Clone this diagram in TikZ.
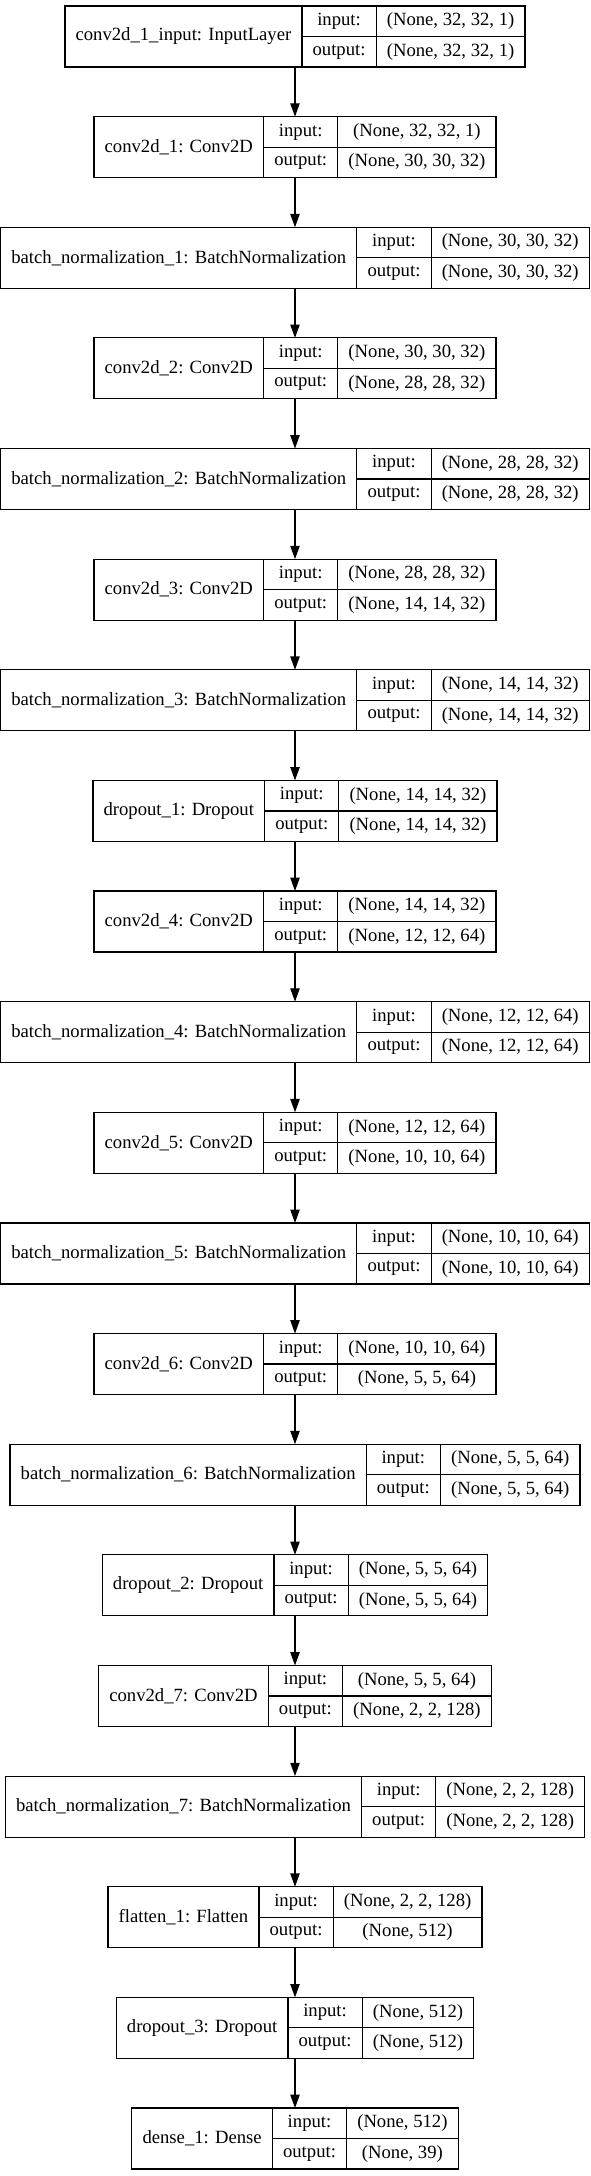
\documentclass[tikz,border=0pt]{standalone}
\usepackage{fontspec}
\setmainfont{Liberation Serif}
\usetikzlibrary{arrows.meta}

\newcommand\layerfont{\fontsize{14}{16.8}\selectfont}
\newlength\lblw
\newlength\keyw
\newlength\valw
\newlength\tmpw
% one record: name, row, label, input shape, output shape
\newcommand\layer[5]{%
  \pgfinterruptpicture%
    \settowidth\tmpw{\layerfont #3}\global\lblw=\tmpw%
    \settowidth\tmpw{\layerfont output:}\global\keyw=\tmpw%
    \settowidth\tmpw{\layerfont #4}\global\valw=\tmpw%
    \settowidth\tmpw{\layerfont #5}\ifdim\tmpw>\valw\global\valw=\tmpw\fi%
  \endpgfinterruptpicture%
  \global\advance\lblw by 16pt%
  \global\advance\keyw by 16pt%
  \global\advance\valw by 16pt%
  \node (#1) at (295, 36.5+110.63*#2) [record,minimum width=\lblw+\keyw+\valw] {};
  \node (#1-name) at (#1.west) [field,anchor=west,minimum width=\lblw,minimum height=45.75pt] {#3};
  \node (#1-ik) at (#1-name.north east) [field,anchor=north west,minimum width=\keyw] {input:};
  \node (#1-ok) at (#1-ik.south west) [field,anchor=north west,minimum width=\keyw] {output:};
  \node (#1-iv) at (#1-ik.north east) [field,anchor=north west,minimum width=\valw] {#4};
  \node (#1-ov) at (#1-ok.north east) [field,anchor=north west,minimum width=\valw] {#5};
}

\begin{document}
\begin{tikzpicture}
    [x=0.75pt,y=-0.75pt,inner sep=0pt,outer sep=0pt,
     record/.style={minimum height=45.75pt},
     field/.style={draw,line width=0.9pt,font=\layerfont,minimum height=22.875pt},
     flow/.style={line width=0.9pt,-{Triangle[length=10pt,width=7pt]}}]
    \useasboundingbox (0,0) rectangle (591,2176);
    \layer{input}{0}{conv2d\_1\_input: InputLayer}{(None, 32, 32, 1)}{(None, 32, 32, 1)}
    \layer{conv1}{1}{conv2d\_1: Conv2D}{(None, 32, 32, 1)}{(None, 30, 30, 32)}
    \layer{bn1}{2}{batch\_normalization\_1: BatchNormalization}{(None, 30, 30, 32)}{(None, 30, 30, 32)}
    \layer{conv2}{3}{conv2d\_2: Conv2D}{(None, 30, 30, 32)}{(None, 28, 28, 32)}
    \layer{bn2}{4}{batch\_normalization\_2: BatchNormalization}{(None, 28, 28, 32)}{(None, 28, 28, 32)}
    \layer{conv3}{5}{conv2d\_3: Conv2D}{(None, 28, 28, 32)}{(None, 14, 14, 32)}
    \layer{bn3}{6}{batch\_normalization\_3: BatchNormalization}{(None, 14, 14, 32)}{(None, 14, 14, 32)}
    \layer{drop1}{7}{dropout\_1: Dropout}{(None, 14, 14, 32)}{(None, 14, 14, 32)}
    \layer{conv4}{8}{conv2d\_4: Conv2D}{(None, 14, 14, 32)}{(None, 12, 12, 64)}
    \layer{bn4}{9}{batch\_normalization\_4: BatchNormalization}{(None, 12, 12, 64)}{(None, 12, 12, 64)}
    \layer{conv5}{10}{conv2d\_5: Conv2D}{(None, 12, 12, 64)}{(None, 10, 10, 64)}
    \layer{bn5}{11}{batch\_normalization\_5: BatchNormalization}{(None, 10, 10, 64)}{(None, 10, 10, 64)}
    \layer{conv6}{12}{conv2d\_6: Conv2D}{(None, 10, 10, 64)}{(None, 5, 5, 64)}
    \layer{bn6}{13}{batch\_normalization\_6: BatchNormalization}{(None, 5, 5, 64)}{(None, 5, 5, 64)}
    \layer{drop2}{14}{dropout\_2: Dropout}{(None, 5, 5, 64)}{(None, 5, 5, 64)}
    \layer{conv7}{15}{conv2d\_7: Conv2D}{(None, 5, 5, 64)}{(None, 2, 2, 128)}
    \layer{bn7}{16}{batch\_normalization\_7: BatchNormalization}{(None, 2, 2, 128)}{(None, 2, 2, 128)}
    \layer{flatten}{17}{flatten\_1: Flatten}{(None, 2, 2, 128)}{(None, 512)}
    \layer{drop3}{18}{dropout\_3: Dropout}{(None, 512)}{(None, 512)}
    \layer{dense}{19}{dense\_1: Dense}{(None, 512)}{(None, 39)}
    \draw [flow] (input) to (conv1);
    \draw [flow] (conv1) to (bn1);
    \draw [flow] (bn1) to (conv2);
    \draw [flow] (conv2) to (bn2);
    \draw [flow] (bn2) to (conv3);
    \draw [flow] (conv3) to (bn3);
    \draw [flow] (bn3) to (drop1);
    \draw [flow] (drop1) to (conv4);
    \draw [flow] (conv4) to (bn4);
    \draw [flow] (bn4) to (conv5);
    \draw [flow] (conv5) to (bn5);
    \draw [flow] (bn5) to (conv6);
    \draw [flow] (conv6) to (bn6);
    \draw [flow] (bn6) to (drop2);
    \draw [flow] (drop2) to (conv7);
    \draw [flow] (conv7) to (bn7);
    \draw [flow] (bn7) to (flatten);
    \draw [flow] (flatten) to (drop3);
    \draw [flow] (drop3) to (dense);
  \end{tikzpicture}
\end{document}
